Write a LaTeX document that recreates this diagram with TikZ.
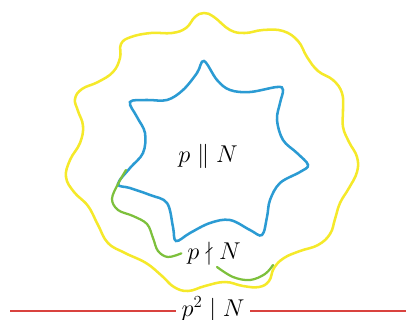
\documentclass[tikz,border=0pt]{standalone}
\usepackage{amsmath,amssymb}
\usepackage{tikz}
\usetikzlibrary{positioning,calc}
\definecolor{ylw}{RGB}{245,233,42}
\definecolor{blu}{RGB}{43,155,211}
\definecolor{grn}{RGB}{125,192,60}
\definecolor{rd}{RGB}{217,67,63}
\begin{document}
\begin{tikzpicture}[x=0.025cm,y=-0.025cm,
   lbl/.style={font=\fontsize{16.5}{19}\selectfont,inner sep=0pt,anchor=base},
   yellowcurve/.style={draw=ylw,line width=1.8pt},
   bluecurve/.style={draw=blu,line width=1.8pt},
   greenlink/.style={draw=grn,line width=1.6pt,line cap=round},
   redline/.style={draw=rd,line width=1.4pt}]
  \clip (0,0) rectangle (406,320);
  \draw[yellowcurve] plot[smooth cycle,tension=0.7] coordinates {
    (204,13) (214,17) (230,30) (245,33) (263,30) (283,31) (298,41) (307,57)
    (318,71) (333,80) (342,93) (343,110) (343,127) (349,142) (357,157) (357,172)
    (349,188) (340,203) (335,219) (330,234) (318,245) (300,251) (284,258) (274,268)
    (269,281) (259,287) (243,286) (225,282) (205,286) (188,291) (174,287) (162,276)
    (146,263) (125,253) (108,243) (98,225) (88,206) (74,192) (66,177) (70,160)
    (80,143) (83,126) (78,111) (75,99) (82,89) (98,82) (113,72) (120,58)
    (121,44) (131,37) (151,33) (172,33) (186,28) (195,17)};
  \draw[bluecurve] plot[smooth cycle,tension=0.6] coordinates {
    (204,61) (217,80) (230,90) (250,92) (277,87) (283,90) (280,103) (277,120)
    (283,140) (297,153) (308,165) (300,172) (280,183) (270,200) (267,217) (262,235)
    (250,230) (230,220) (210,223) (190,233) (176,241) (173,227) (167,203) (150,195)
    (130,188) (118,184) (130,168) (143,153) (145,133) (137,117) (130,102) (147,100)
    (167,100) (183,90) (197,73)};
  \node[lbl] (par) at (208,163) {$p \parallel N$};
  \node[lbl,inner xsep=4pt] (ndiv) at (214,259) {$p \nmid N$};
  \node[lbl,inner xsep=4pt] (sq) at (213,316) {$p^2 \mid N$};
  \coordinate (gs) at (126,170);
  \coordinate (gm) at (217,267);
  \coordinate (ge) at (273,265);
  \draw[greenlink] plot[smooth,tension=0.6] coordinates {(gs) (118,184) (112,199)
    (118,210) (133,216) (147,224) (153,238) (158,251) (168,257) (ndiv.west)};
  \draw[greenlink] plot[smooth,tension=0.6] coordinates {(gm) (233,277) (250,280)
    (265,274) (ge)};
  \coordinate (rl) at (10,311);
  \coordinate (rr) at (406,311);
  \draw[redline] (rl) -- (rl -| sq.west);
  \draw[redline] (sq.east |- rr) -- (rr);
\end{tikzpicture}
\end{document}
